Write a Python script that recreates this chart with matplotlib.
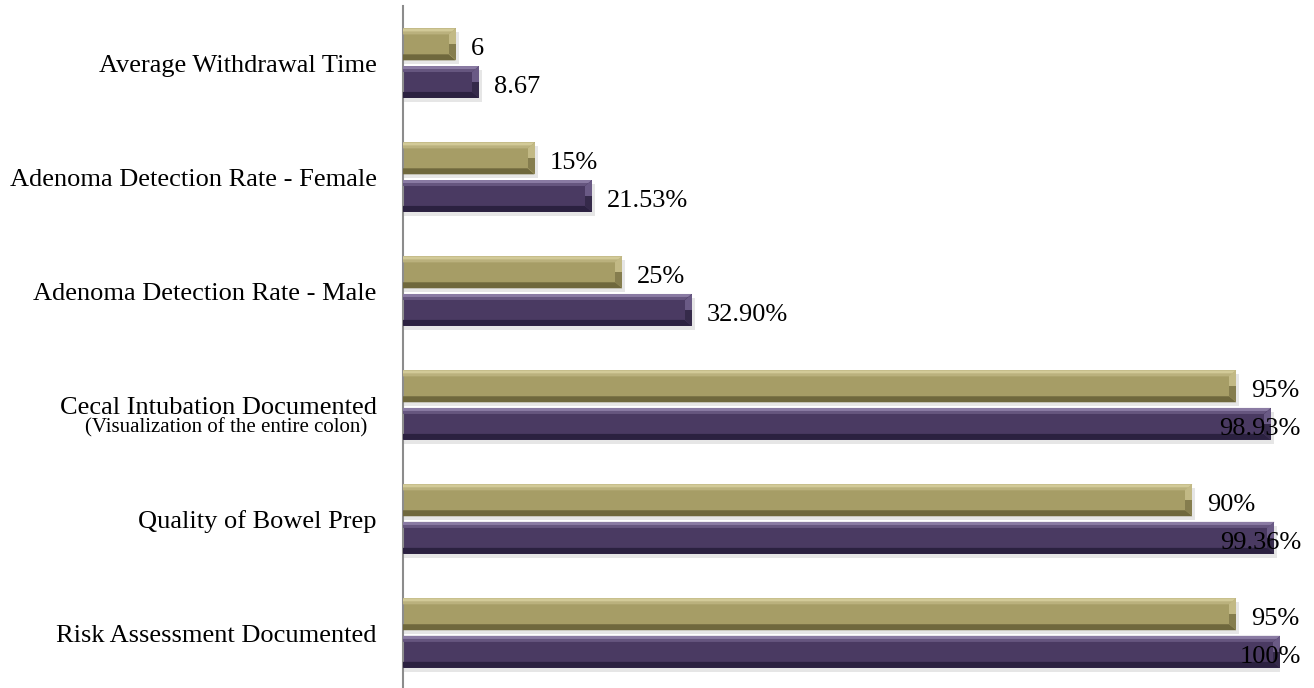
import numpy as np
import matplotlib.pyplot as plt
from matplotlib.patches import Polygon, Rectangle

plt.rcParams['font.family'] = ['Liberation Serif', 'DejaVu Serif']

categories = ['Average Withdrawal Time',
              'Adenoma Detection Rate - Female',
              'Adenoma Detection Rate - Male',
              'Cecal Intubation Documented',
              'Quality of Bowel Prep',
              'Risk Assessment Documented']
subtitles = ['', '', '', '(Visualization of the entire colon)', '', '']
target = [6, 15, 25, 95, 90, 95]
actual = [8.67, 21.53, 32.90, 98.93, 99.36, 100]
target_labels = ['6', '15%', '25%', '95%', '90%', '95%']
actual_labels = ['8.67', '21.53%', '32.90%', '98.93%', '99.36%', '100%']

gold = dict(face='#A69D66', top='#D2CA98', top2='#BAB17D', bot='#6F683D', rup='#C2B985', rlo='#857D4E')
purple = dict(face='#4A3A62', top='#8A7BA3', top2='#66567F', bot='#2B2140', rup='#6A5A85', rlo='#352A4A')

fig = plt.figure(figsize=(13.14, 6.88), dpi=100)
ax = fig.add_axes([403 / 1314, -0.003, 877 / 1314, 0.994])

n = len(categories)
y = np.arange(n)[::-1].astype(float)
h = 0.28
off = 0.165
ax.set_xlim(0, 100)
ax.set_ylim(-0.5, n - 0.5)

px_x = 100 / 877
px_y = 1 / 114


def bevel_bar(yc, w, c):
    y0, y1 = yc - h / 2, yc + h / 2
    bx, by = 7 * px_x, 6 * px_y
    # soft shadow
    ax.add_patch(Rectangle((0, y0 - 4 * px_y), w + 3 * px_x, h, color='#d6d6d6', alpha=0.6, lw=0, zorder=1))
    ax.add_patch(Rectangle((0, y0), w, h, color=c['face'], lw=0, zorder=2))
    ax.add_patch(Polygon([(0, y1), (w, y1), (w - bx, y1 - by), (0, y1 - by)], color=c['top2'], lw=0, zorder=3))
    ax.add_patch(Polygon([(0, y1), (w, y1), (w - bx / 2, y1 - by / 2), (0, y1 - by / 2)], color=c['top'], lw=0, zorder=3))
    ax.add_patch(Polygon([(0, y0), (w, y0), (w - bx, y0 + by), (0, y0 + by)], color=c['bot'], lw=0, zorder=3))
    ax.add_patch(Polygon([(w, y1), (w, yc), (w - bx, yc), (w - bx, y1 - by)], color=c['rup'], lw=0, zorder=3))
    ax.add_patch(Polygon([(w, y0), (w, yc), (w - bx, yc), (w - bx, y0 + by)], color=c['rlo'], lw=0, zorder=3))


for i in range(n):
    bevel_bar(y[i] + off, target[i], gold)
    bevel_bar(y[i] - off, actual[i], purple)

# value labels, pulled back inside the chart area when they would overflow
fig.canvas.draw()
renderer = fig.canvas.get_renderer()
limit_px = 1301
texts = []
for i in range(n):
    for val, lab, dy in [(target[i], target_labels[i], off), (actual[i], actual_labels[i], -off)]:
        t = ax.annotate(lab, xy=(val, y[i] + dy), xytext=(15, -5), textcoords='offset pixels',
                        ha='left', va='center', fontsize=19, color='black', zorder=5,
                        annotation_clip=False)
        texts.append(t)
fig.canvas.draw()
for t in texts:
    bb = t.get_window_extent(renderer)
    if bb.x1 > limit_px:
        t.set_position((limit_px - bb.x1 + 15, -5))

ax.set_yticks(y)
ax.set_yticklabels(categories, fontsize=19)
ax.tick_params(axis='y', length=0, pad=19)
for t in ax.get_yticklabels():
    if t.get_text() == 'Cecal Intubation Documented':
        t.set_y(t.get_position()[1] - 2 * px_y)
for i, s in enumerate(subtitles):
    if s:
        ax.text(-36 * px_x, y[i] - 23 * px_y, s, ha='right', va='center', fontsize=15)

ax.set_xticks([])
for side in ['top', 'right', 'bottom']:
    ax.spines[side].set_visible(False)
ax.spines['left'].set_color('#8c8c8c')
ax.spines['left'].set_linewidth(1.5)

fig.savefig('out.png', dpi=100)
